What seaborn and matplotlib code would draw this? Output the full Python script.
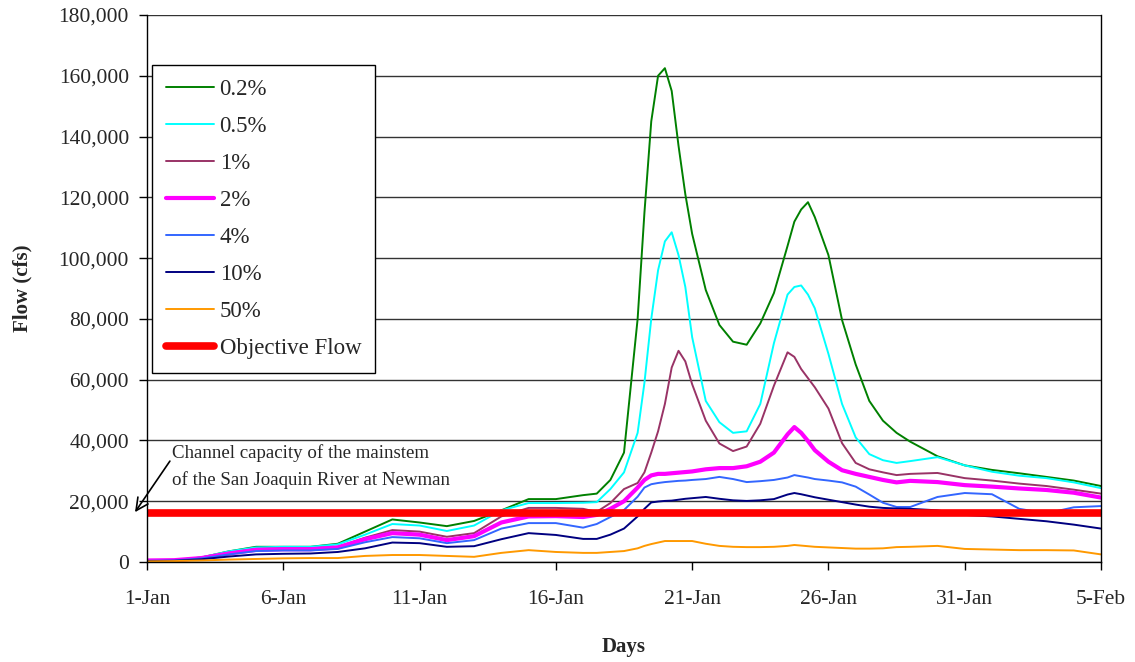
import numpy as np
import pandas as pd
import matplotlib
matplotlib.use('Agg')
import matplotlib.pyplot as plt
from matplotlib.ticker import FuncFormatter
import seaborn as sns

# hari sejak 1-Jan (lebih rapat di sekitar puncak)
DAYS = [0, 1, 2, 3, 4, 5, 6, 7, 8, 9, 10, 11, 12, 13, 14, 15, 16, 16.5, 17, 17.5,
        18, 18.25, 18.5, 18.75, 19, 19.25, 19.5, 19.75, 20, 20.5, 21, 21.5, 22, 22.5,
        23, 23.5, 23.75, 24, 24.25, 24.5, 25, 25.5, 26, 26.5, 27, 27.5, 28, 29, 30,
        31, 32, 33, 34, 35]

TICK_DAYS = [0, 5, 10, 15, 20, 25, 30, 35]
TICK_LABELS = ['1-Jan', '6-Jan', '11-Jan', '16-Jan', '21-Jan', '26-Jan', '31-Jan', '5-Feb']

FLOW_02 = [500, 600, 1500, 3500, 5000, 5000, 5000, 6000, 10000, 14000, 13000, 11800, 13500,
           17000, 20700, 20700, 22000, 22500, 27000, 36000, 80000, 115000, 145000, 160000,
           162500, 155000, 137000, 121000, 108000, 89500, 78000, 72500, 71500, 78500, 88500,
           104000, 112000, 116000, 118400, 113500, 101000, 79600, 65000, 53000, 46500, 42500,
           39600, 34800, 31800, 30300, 29200, 28000, 26800, 25000]
FLOW_05 = [500, 600, 1500, 3500, 4800, 5000, 5000, 5800, 9000, 12500, 12000, 10200, 12000,
           17000, 19400, 19400, 19500, 19700, 24000, 29500, 42500, 59000, 80000, 96000,
           105500, 108500, 101000, 90500, 74000, 53000, 46000, 42500, 43000, 52000, 72000,
           88000, 90500, 91000, 88000, 83500, 68500, 52000, 41000, 35500, 33500, 32600,
           33200, 34500, 31800, 29700, 28400, 27600, 26200, 24300]
FLOW_1 = [500, 600, 1400, 3000, 4300, 4500, 4500, 5000, 8000, 10500, 10000, 8300, 9500,
          15000, 17800, 17800, 17500, 16500, 19400, 24000, 26000, 29500, 36000, 43000,
          52000, 64000, 69500, 66000, 58500, 46500, 39000, 36500, 38000, 45500, 58000,
          69000, 67500, 63500, 60500, 57500, 50500, 39100, 32600, 30500, 29500, 28600,
          29000, 29300, 27600, 26800, 25800, 25000, 23800, 22500]
FLOW_2 = [500, 600, 1300, 2800, 4000, 4200, 4200, 4800, 7500, 9500, 9000, 7200, 8500,
          13000, 15000, 15100, 14800, 15500, 17500, 20000, 24500, 27000, 28500, 29000,
          29000, 29200, 29400, 29600, 29800, 30500, 30900, 30900, 31500, 33000, 36000,
          42000, 44400, 42500, 39800, 36800, 33000, 30200, 29000, 28000, 27000, 26200,
          26700, 26300, 25300, 24800, 24200, 23700, 22800, 21200]
FLOW_4 = [400, 500, 1200, 2500, 3600, 3800, 3800, 4300, 6500, 8200, 7800, 6200, 7200,
          11000, 12800, 12800, 11300, 12500, 14800, 17100, 21500, 24500, 25600, 26000,
          26300, 26500, 26700, 26800, 27000, 27300, 28000, 27300, 26300, 26600, 27000,
          27800, 28600, 28200, 27800, 27300, 26800, 26200, 24800, 22200, 19500, 18100,
          18100, 21400, 22700, 22300, 17500, 16000, 18000, 18400]
FLOW_10 = [300, 400, 900, 1800, 2500, 2700, 2800, 3300, 4500, 6400, 6200, 5000, 5200,
           7500, 9500, 8900, 7600, 7600, 9000, 11000, 15000, 17500, 19600, 19900, 20100,
           20200, 20500, 20800, 21000, 21400, 20800, 20300, 20100, 20300, 20700, 22200,
           22700, 22300, 21800, 21300, 20500, 19700, 18900, 18200, 17800, 17600, 17500,
           17000, 15500, 15000, 14200, 13400, 12300, 11000]
FLOW_50 = [200, 300, 500, 800, 1000, 1200, 1300, 1300, 2000, 2300, 2300, 2000, 1700,
           3000, 3900, 3300, 3000, 3000, 3300, 3600, 4500, 5300, 5900, 6400, 6900, 6900,
           6900, 6900, 6900, 6000, 5300, 5000, 4900, 4900, 5000, 5300, 5600, 5400, 5200,
           5000, 4800, 4600, 4400, 4400, 4500, 4900, 5000, 5300, 4300, 4100, 3900, 3900,
           3800, 2500]

OBJECTIVE_FLOW = 16000

SERIES = [
    ('0.2%', FLOW_02, '#008000', 1.4),
    ('0.5%', FLOW_05, '#00FFFF', 1.4),
    ('1%', FLOW_1, '#993366', 1.4),
    ('2%', FLOW_2, '#FF00FF', 3.0),
    ('4%', FLOW_4, '#3366FF', 1.4),
    ('10%', FLOW_10, '#000080', 1.4),
    ('50%', FLOW_50, '#FF9900', 1.4),
]

sns.set_theme(style='white')
plt.rcParams['font.family'] = ['Liberation Serif', 'DejaVu Serif']

fig = plt.figure(figsize=(11.35, 6.62), dpi=100)
ax = fig.add_axes([147 / 1135, 1 - 562 / 662, (1101 - 147) / 1135, (562 - 15) / 662])

for label, flow, color, lw in SERIES:
    df = pd.DataFrame({'day': DAYS, 'flow': flow})
    sns.lineplot(data=df, x='day', y='flow', ax=ax, color=color, linewidth=lw,
                 label=label, sort=False)

# garis debit objektif (kapasitas saluran)
obj_df = pd.DataFrame({'day': [DAYS[0], DAYS[-1]], 'flow': [OBJECTIVE_FLOW] * 2})
sns.lineplot(data=obj_df, x='day', y='flow', ax=ax, color='#FF0000', linewidth=5.5,
             label='Objective Flow')

ax.set_xlim(0, 35)
ax.set_ylim(0, 180000)
ax.set_xticks(TICK_DAYS)
ax.set_xticklabels(TICK_LABELS)
ax.set_yticks(range(0, 180001, 20000))
ax.yaxis.set_major_formatter(FuncFormatter(lambda v, p: f'{int(v):,}'))
ax.grid(axis='y', color='#333333', linewidth=1)
ax.set_axisbelow(True)
for s in ax.spines.values():
    s.set_color('black')
    s.set_linewidth(1)
ax.spines['top'].set_visible(False)

ax.tick_params(axis='both', direction='out', length=6, width=1, color='black',
               labelsize=15.5, left=True, bottom=True)
ax.tick_params(axis='x', pad=14)
ax.tick_params(axis='y', pad=7)

ax.set_xlabel('Days', fontsize=15, fontweight='bold', labelpad=20)
ax.set_ylabel('Flow (cfs)', fontsize=15, fontweight='bold', labelpad=19)

# keterangan kapasitas saluran
ax.text(0.92, 38800, 'Channel capacity of the mainstem\nof the San Joaquin River at Newman',
        fontsize=13.6, ha='left', va='top', linespacing=1.65)
ax.annotate('', xy=(-0.44, 16400), xytext=(0.84, 33200), xycoords='data',
            arrowprops=dict(arrowstyle='->', color='black', lw=1.2, mutation_scale=22,
                            shrinkA=0, shrinkB=0),
            annotation_clip=False)

leg = ax.legend(loc='upper left', bbox_to_anchor=(5 / 954, (562 - 65) / 547),
                frameon=True, fancybox=False, edgecolor='black', framealpha=1,
                fontsize=16.5, handlelength=2.1, handletextpad=0.25, labelspacing=0.7,
                borderpad=0.6, borderaxespad=0)
leg.get_frame().set_linewidth(1.0)

fig.savefig('out.png', dpi=100)
